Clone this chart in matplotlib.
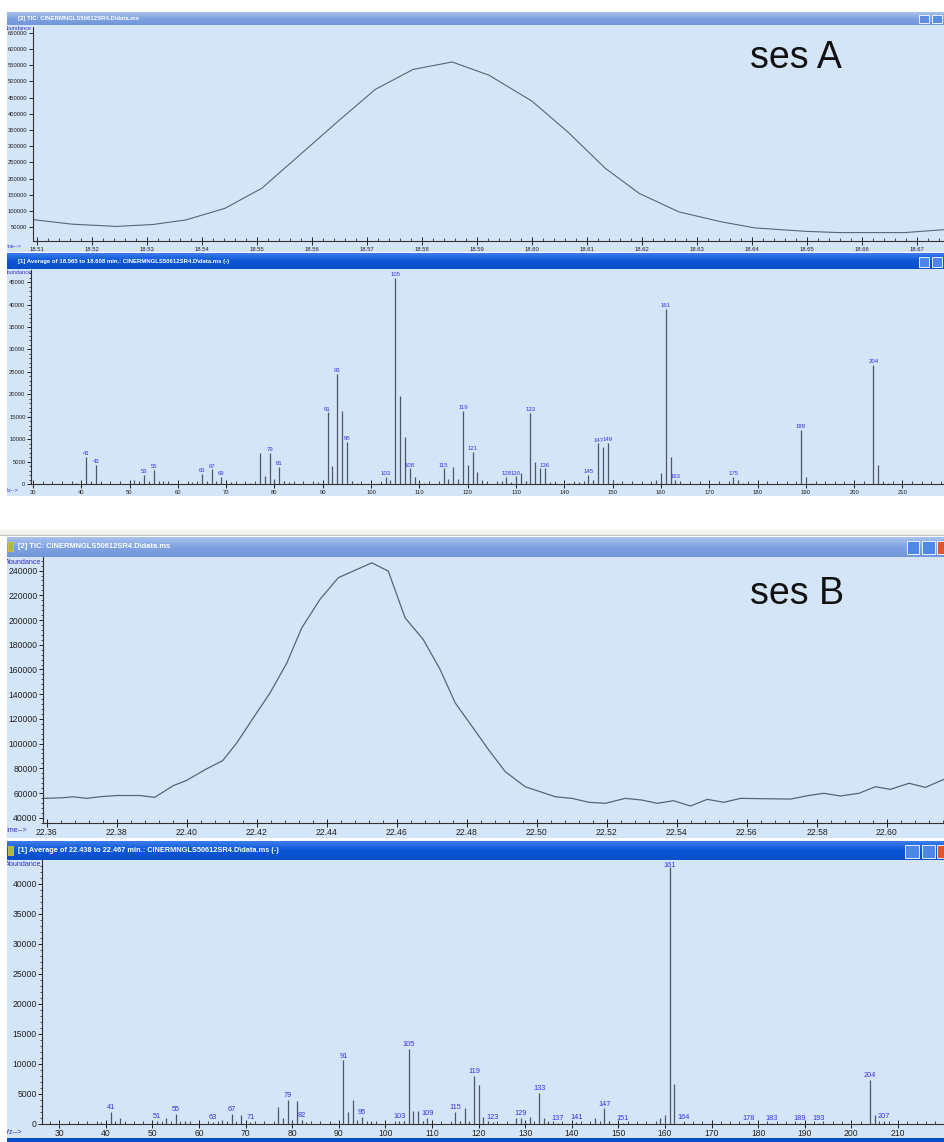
import numpy as np
import matplotlib.pyplot as plt
from matplotlib.patches import Rectangle
from matplotlib.colors import LinearSegmentedColormap
from matplotlib.ticker import MultipleLocator, FixedLocator

plt.rcParams['font.family'] = ['Liberation Sans', 'DejaVu Sans']

# ---- ses A : TIC (minutes, abundance)
tic_a_time = [18.5093, 18.5164, 18.5245, 18.5311, 18.5371, 18.5442, 18.5509, 18.5578,
              18.5651, 18.5715, 18.5784, 18.5855, 18.5922, 18.6000, 18.6067, 18.6133,
              18.6195, 18.6267, 18.6345, 18.6405, 18.6496, 18.6558, 18.6678, 18.6749]
tic_a_abund = [73000, 59000, 52000, 58000, 72000, 108000, 170000, 273000,
               382000, 475000, 537000, 560000, 519000, 439000, 341000, 232000,
               154000, 97000, 66000, 47500, 37000, 33000, 33000, 42000]
tic_a_xticks = [18.51, 18.52, 18.53, 18.54, 18.55, 18.56, 18.57, 18.58, 18.59,
                18.60, 18.61, 18.62, 18.63, 18.64, 18.65, 18.66, 18.67]
tic_a_yticks = [50000, 100000, 150000, 200000, 250000, 300000, 350000, 400000,
                450000, 500000, 550000, 600000, 650000]

# ---- ses A : averaged spectrum (m/z, abundance)
spec_a_mz = [39, 41, 42, 43, 44, 50, 51, 52, 53, 54, 55, 56, 57, 58, 62, 63, 64, 65, 66, 67,
             68, 69, 70, 71, 74, 75, 76, 77, 78, 79, 80, 81, 82, 83, 84, 89, 90, 91, 92, 93,
             94, 95, 96, 97, 102, 103, 104, 105, 106, 107, 108, 109, 110, 111, 115, 116, 117,
             118, 119, 120, 121, 122, 123, 124, 126, 127, 128, 129, 130, 131, 132, 133, 134,
             135, 136, 137, 138, 141, 142, 143, 144, 145, 146, 147, 148, 149, 150, 151, 158,
             159, 160, 161, 162, 163, 164, 175, 176, 177, 189, 190, 191, 204, 205, 206, 207]
spec_a_int = [300, 6100, 400, 4200, 200, 300, 800, 300, 2000, 400, 3100, 300, 600, 200, 200,
              500, 300, 2200, 400, 3300, 500, 1600, 200, 400, 200, 300, 300, 7000, 1700, 7000,
              1100, 3900, 600, 500, 200, 400, 300, 16000, 4000, 24500, 16200, 9400, 600, 300,
              300, 1600, 1000, 46000, 19700, 10400, 3500, 1600, 500, 200, 3500, 1100, 3900,
              1100, 16300, 4300, 7200, 2600, 900, 300, 200, 600, 1600, 500, 1700, 2400, 600,
              15800, 4800, 3500, 3500, 500, 200, 300, 400, 400, 300, 2000, 900, 9100, 8300,
              9200, 900, 200, 300, 900, 2500, 39000, 6000, 900, 200, 1600, 1000, 200, 12000,
              1600, 200, 26500, 4200, 400, 200]
spec_a_labels = [41, 43, 53, 55, 65, 67, 69, 79, 81, 91, 93, 95, 103, 105, 108, 115, 119, 121,
                 128, 130, 133, 136, 145, 147, 149, 161, 163, 175, 189, 204]
spec_a_yticks = [0, 5000, 10000, 15000, 20000, 25000, 30000, 35000, 40000, 45000]

# ---- ses B : TIC
tic_b_time = [22.3590, 22.3647, 22.3676, 22.3714, 22.3752, 22.3800, 22.3867, 22.3909,
              22.3962, 22.4000, 22.4052, 22.4103, 22.4143, 22.4190, 22.4238, 22.4286,
              22.4329, 22.4381, 22.4433, 22.4476, 22.4529, 22.4576, 22.4624, 22.4676,
              22.4724, 22.4767, 22.4815, 22.4863, 22.4910, 22.4967, 22.5053, 22.5101,
              22.5149, 22.5196, 22.5253, 22.5301, 22.5344, 22.5391, 22.5439, 22.5487,
              22.5534, 22.5582, 22.5725, 22.5772, 22.5820, 22.5867, 22.5920, 22.5967,
              22.6010, 22.6063, 22.6110, 22.6163]
tic_b_abund = [55700, 56200, 57000, 55700, 57000, 58000, 58000, 56500,
               66000, 70200, 78800, 86200, 100400, 120600, 140900, 165000,
               193700, 216700, 234200, 239600, 246300, 239600, 201800, 184200,
               160000, 133000, 114000, 94800, 77300, 65100, 57000, 55700,
               52500, 51700, 55700, 54300, 51700, 53800, 49500, 54900,
               52500, 55700, 55100, 57800, 59800, 57600, 59800, 65100,
               63000, 67900, 64600, 71100]
tic_b_xticks = [22.36, 22.38, 22.40, 22.42, 22.44, 22.46, 22.48, 22.50, 22.52, 22.54,
                22.56, 22.58, 22.60]
tic_b_yticks = [40000, 60000, 80000, 100000, 120000, 140000, 160000, 180000, 200000,
                220000, 240000]

# ---- ses B : averaged spectrum
spec_b_mz = [39, 41, 42, 43, 50, 51, 53, 55, 57, 63, 65, 66, 67, 69, 71, 77, 78, 79, 80, 81,
             82, 83, 89, 91, 92, 93, 94, 95, 97, 103, 104, 105, 106, 107, 108, 109, 115, 116,
             117, 118, 119, 120, 121, 122, 123, 128, 129, 130, 131, 133, 134, 135, 137, 141,
             145, 147, 148, 151, 159, 160, 161, 162, 164, 178, 183, 189, 193, 204, 205, 207]
spec_b_int = [300, 2000, 300, 1000, 200, 450, 1000, 1570, 450, 300, 600, 300, 1560, 1500, 300,
              2800, 900, 3950, 450, 3800, 600, 300, 200, 10550, 2000, 3900, 600, 1200, 450,
              400, 450, 12450, 2100, 2100, 450, 900, 2000, 400, 2700, 300, 8000, 6450, 1200,
              400, 300, 900, 1000, 300, 1200, 5060, 900, 400, 200, 250, 900, 2550, 500, 200,
              900, 1500, 42800, 6560, 300, 200, 150, 150, 200, 7280, 1400, 400]
spec_b_labels = [41, 51, 55, 63, 67, 71, 79, 82, 91, 95, 103, 105, 109, 115, 119, 123, 129,
                 133, 137, 141, 147, 151, 161, 164, 178, 183, 189, 193, 204, 207]
spec_b_yticks = [0, 5000, 10000, 15000, 20000, 25000, 30000, 35000, 40000]

mz_ticks = [30, 40, 50, 60, 70, 80, 90, 100, 110, 120, 130, 140, 150, 160, 170, 180, 190, 200, 210]

W, H = 944, 1142
BG = '#d5e5f8'
LINE = '#56657a'
STICK = '#4c5666'
LBL = '#3535ee'
AXLBL = '#3030d0'

fig = plt.figure(figsize=(W / 100, H / 100), dpi=100)


def box(x0, y0, x1, y1, z=1):
    return fig.add_axes([x0 / W, 1 - y1 / H, (x1 - x0) / W, (y1 - y0) / H], zorder=z)


def window(y_bar, y_body, y_end, title, active, fs):
    bar = box(7, y_bar, W, y_body)
    if active:
        cols = ['#3b7cea', '#0a56d8', '#0b4fc8']
    else:
        cols = ['#a9c2ee', '#7fa2e0', '#7297da']
    cm = LinearSegmentedColormap.from_list('bar', cols)
    bar.imshow(np.linspace(0, 1, 30).reshape(-1, 1), aspect='auto', cmap=cm,
               extent=[7, W, y_body, y_bar])
    bar.set_xlim(7, W)
    bar.set_ylim(y_body, y_bar)
    bar.set_axis_off()
    bar.text(18, (y_bar + y_body) / 2, title, color='white', fontsize=fs,
             weight='bold', va='center', ha='left')
    body = box(7, y_body, W, y_end)
    body.set_facecolor(BG)
    body.set_xlim(7, W)
    body.set_ylim(y_end, y_body)
    body.set_xticks([])
    body.set_yticks([])
    for s in body.spines.values():
        s.set_visible(False)
    return body


def style(ax, fs):
    ax.set_facecolor('none')
    ax.spines['top'].set_visible(False)
    ax.spines['right'].set_visible(False)
    ax.spines['left'].set_color('#303030')
    ax.spines['bottom'].set_color('#303030')
    ax.spines['left'].set_linewidth(0.8)
    ax.spines['bottom'].set_linewidth(0.8)
    ax.tick_params(axis='y', which='major', direction='out', length=3, width=0.7,
                   labelsize=fs, pad=1, colors='#202020')
    ax.tick_params(axis='y', which='minor', direction='out', length=1.5, width=0.6, colors='#303030')
    ax.tick_params(axis='x', which='major', direction='inout', length=6, width=0.7,
                   labelsize=fs, pad=1, colors='#202020')
    ax.tick_params(axis='x', which='minor', direction='in', length=2.5, width=0.6, colors='#303030')


def peak_labels(ax, mzs, ints, labels, fs):
    top = ax.get_ylim()[1]
    for m in labels:
        y = min(ints[mzs.index(m)] + 150, top * 0.965)
        ax.text(m, y, str(m), ha='center', va='bottom', fontsize=fs, color=LBL, clip_on=False)


# ------------------------------------------------------------ ses A, TIC
body = window(12, 25, 252, '[2] TIC: CINERMNGLS50612SR4.D\\data.ms', False, 4.3)
body.text(4, 29, 'Abundance', color=AXLBL, fontsize=4, va='center', clip_on=True)
body.text(3, 247, 'Time-->', color=AXLBL, fontsize=4, va='center', clip_on=True)
ax = box(33, 27, W, 241, z=2)
style(ax, 4.2)
ax.plot(tic_a_time, tic_a_abund, color=LINE, lw=0.8)
ax.set_xlim(18.5093, 18.6749)
ax.set_ylim(7000, 668000)
ax.xaxis.set_major_locator(FixedLocator(tic_a_xticks))
ax.set_xticklabels(['%.2f' % t for t in tic_a_xticks])
ax.xaxis.set_minor_locator(MultipleLocator(0.002))
ax.yaxis.set_major_locator(FixedLocator(tic_a_yticks))
ax.set_yticklabels([str(v) for v in tic_a_yticks])
fig.text(750 / W, 1 - 68 / H, 'ses A', fontsize=27, ha='left', va='baseline', color='#111111')

# ------------------------------------------------------------ ses A, spectrum
body = window(253, 269, 496, '[1] Average of 18.565 to 18.608 min.: CINERMNGLS50612SR4.D\\data.ms (-)',
              True, 4.3)
body.text(4, 272, 'Abundance', color=AXLBL, fontsize=4, va='center', clip_on=True)
body.text(3, 491, 'm/z-->', color=AXLBL, fontsize=4, va='center', clip_on=True)
ax = box(31, 270, W, 484, z=2)
style(ax, 4.2)
ax.vlines(spec_a_mz, 0, spec_a_int, colors=STICK, lw=0.9)
ax.set_xlim(29.6, 218.6)
ax.set_ylim(0, 47700)
ax.xaxis.set_major_locator(FixedLocator(mz_ticks))
ax.xaxis.set_minor_locator(MultipleLocator(2))
ax.yaxis.set_major_locator(FixedLocator(spec_a_yticks))
ax.yaxis.set_minor_locator(MultipleLocator(1000))
peak_labels(ax, spec_a_mz, spec_a_int, spec_a_labels, 4.3)

# faint toolbar strip between the two screenshots
strip = box(0, 530, W, 536)
strip.set_facecolor('#f4f2ee')
strip.set_xticks([])
strip.set_yticks([])
for s in strip.spines.values():
    s.set_visible(False)
strip.axhline(0.1, color='#c8c8c8', lw=1)

# ------------------------------------------------------------ ses B, TIC
body = window(537, 557, 838, '[2] TIC: CINERMNGLS50612SR4.D\\data.ms', False, 5.4)
body.text(5, 562, 'Abundance', color=AXLBL, fontsize=5.2, va='center', clip_on=True)
body.text(3, 830, 'Time-->', color=AXLBL, fontsize=5.2, va='center', clip_on=True)
ax = box(43, 557, W, 822.7, z=2)
style(ax, 6.2)
ax.plot(tic_b_time, tic_b_abund, color=LINE, lw=0.9)
ax.set_xlim(22.359, 22.6163)
ax.set_ylim(36000, 251000)
ax.xaxis.set_major_locator(FixedLocator(tic_b_xticks))
ax.set_xticklabels(['%.2f' % t for t in tic_b_xticks])
ax.xaxis.set_minor_locator(MultipleLocator(0.004))
ax.yaxis.set_major_locator(FixedLocator(tic_b_yticks))
ax.set_yticklabels([str(v) for v in tic_b_yticks])
ax.yaxis.set_minor_locator(MultipleLocator(4000))
fig.text(750 / W, 1 - 604 / H, 'ses B', fontsize=27, ha='left', va='baseline', color='#111111')

# ------------------------------------------------------------ ses B, spectrum
body = window(841, 860, 1138, '[1] Average of 22.438 to 22.467 min.: CINERMNGLS50612SR4.D\\data.ms (-)',
              True, 5.3)
body.text(5, 865, 'Abundance', color=AXLBL, fontsize=5.2, va='center', clip_on=True)
body.text(2, 1132, 'm/z-->', color=AXLBL, fontsize=5.2, va='center', clip_on=True)
ax = box(42.3, 860, W, 1123.7, z=2)
style(ax, 6.2)
ax.vlines(spec_b_mz, 0, spec_b_int, colors=STICK, lw=0.9)
ax.set_xlim(26.35, 219.9)
ax.set_ylim(0, 43950)
ax.xaxis.set_major_locator(FixedLocator(mz_ticks))
ax.xaxis.set_minor_locator(MultipleLocator(2))
ax.yaxis.set_major_locator(FixedLocator(spec_b_yticks))
ax.yaxis.set_minor_locator(MultipleLocator(1000))
peak_labels(ax, spec_b_mz, spec_b_int, spec_b_labels, 5.3)

# ------------------------------------------------------------ window chrome (buttons, icons, border)
ov = fig.add_axes([0, 0, 1, 1], zorder=10)
ov.set_xlim(0, W)
ov.set_ylim(H, 0)
ov.set_axis_off()
ov.patch.set_alpha(0)
buttons = [(919, 15, 10, 8, '#5d8ce0'), (932, 15, 10, 8, '#5d8ce0'),
           (919, 257, 10, 10, '#4f86ea'), (932, 257, 10, 10, '#4f86ea'),
           (907, 541, 12, 13, '#4f86ea'), (922, 541, 13, 13, '#4f86ea'), (937, 541, 8, 13, '#e0562e'),
           (905, 845, 14, 13, '#4f86ea'), (922, 845, 13, 13, '#4f86ea'), (937, 845, 8, 13, '#e0562e')]
for bx, by, bw, bh, bc in buttons:
    ov.add_patch(Rectangle((bx, by), bw, bh, facecolor=bc, edgecolor='white', lw=0.6))
for iy in [540, 844]:
    ov.add_patch(Rectangle((8, iy + 2), 5, 9, facecolor='#9cc23a', edgecolor='#e0c040', lw=0.6))
ov.add_patch(Rectangle((7, 1138), W - 7, 4, facecolor='#0b4fc8', lw=0))

fig.savefig('out.png', dpi=100)
